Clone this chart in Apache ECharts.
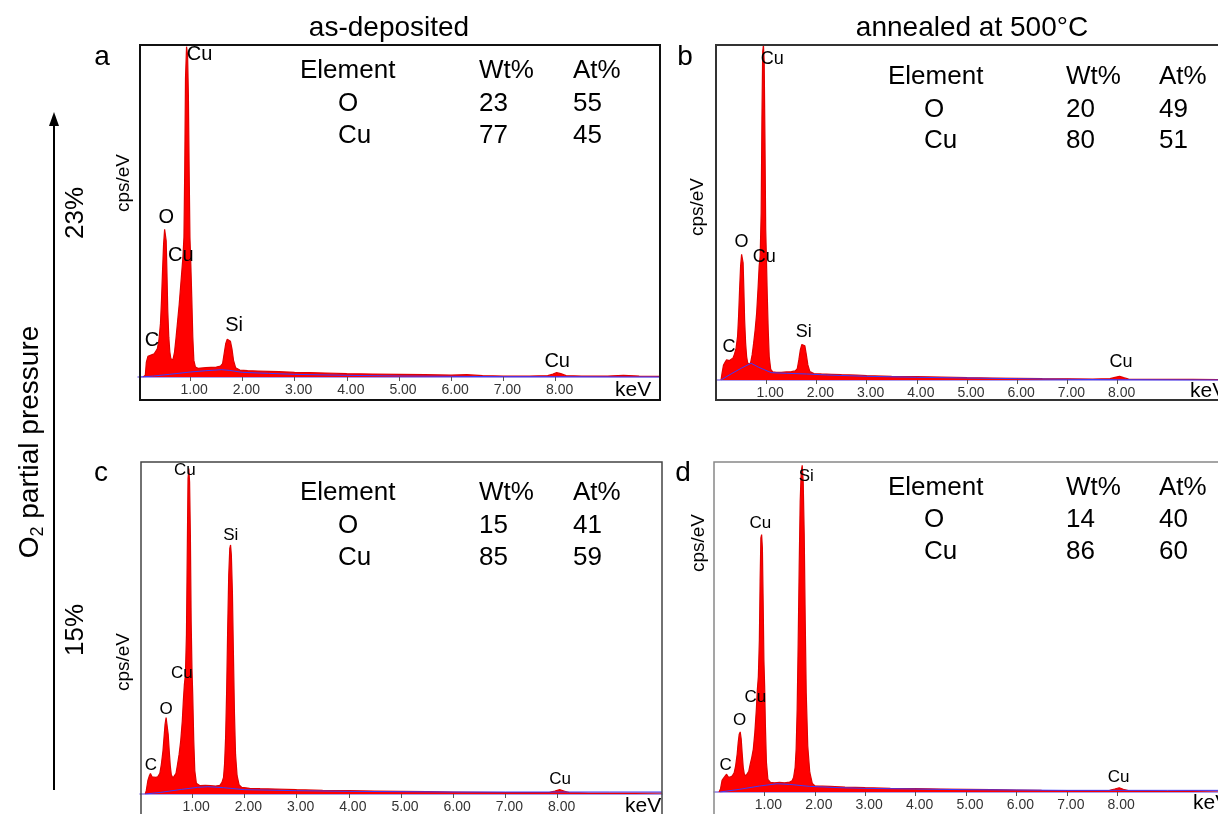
<!DOCTYPE html>
<html><head><meta charset="utf-8">
<script src="https://cdn.jsdelivr.net/npm/echarts@6/dist/echarts.min.js"></script>
<style>html,body{margin:0;padding:0;background:#fff}#c{width:1218px;height:814px}</style>
</head><body><div id="c"></div>
<script>
// ---------------- data ----------------
const tickValues = [1,2,3,4,5,6,7,8];
const tickLabels = ['1.00','2.00','3.00','4.00','5.00','6.00','7.00','8.00'];

const columnTitles = ['as-deposited','annealed at 500\u00B0C'];
const rowTitles = ['23%','15%'];
const panelLetters = ['a','b','c','d'];
const tableHead = ['Element','Wt%','At%'];
const tableElements = ['O','Cu'];
const wtA = [23,77], atA = [55,45];
const wtB = [20,80], atB = [49,51];
const wtC = [15,85], atC = [41,59];
const wtD = [14,86], atD = [40,60];

// spectra [keV, cps/eV (relative)]
const specA = [[0.10,0],[0.14,0.5],[0.16,4.5],[0.19,6.2],[0.22,6.5],[0.25,6.6],[0.28,6.9],[0.31,7.0],[0.34,7.3],[0.37,8.5],[0.40,11],[0.43,16],[0.45,23],[0.47,32],[0.49,40],[0.51,44.5],[0.525,45],[0.54,41],[0.555,31],[0.57,20],[0.59,12],[0.61,7.5],[0.63,5.5],[0.65,4.9],[0.67,5.2],[0.70,7.5],[0.73,12],[0.76,17],[0.79,22],[0.82,28],[0.84,32],[0.86,36],[0.88,42],[0.895,62],[0.91,90],[0.93,99.5],[0.95,97],[0.965,85],[0.98,62],[0.995,42],[1.01,35],[1.03,24],[1.05,12],[1.07,5],[1.10,3],[1.15,2.6],[1.2,2.7],[1.3,2.8],[1.4,2.9],[1.5,3.0],[1.58,3.3],[1.62,4],[1.65,7],[1.68,10],[1.71,11.4],[1.74,11.6],[1.77,10.8],[1.80,8.5],[1.83,5],[1.87,2.8],[1.95,2.1],[2.1,1.9],[2.3,1.8],[2.5,1.7],[2.7,1.6],[3.0,1.4],[3.3,1.3],[3.6,1.2],[4.0,1.0],[4.5,0.9],[5.0,0.8],[5.5,0.7],[6.0,0.6],[6.3,0.7],[6.6,0.4],[7.0,0.3],[7.5,0.3],[7.85,0.4],[7.95,0.9],[8.02,1.3],[8.1,1.0],[8.2,0.4],[8.5,0.3],[9.0,0.3],[9.3,0.5],[9.6,0.3],[10.0,0.2]];
const bgA = [[0.05,0],[0.3,0.3],[0.6,0.8],[1.0,1.5],[1.3,1.9],[1.6,2.2],[1.75,2.0],[2.0,1.4],[2.5,1.1],[3.0,0.8],[4.0,0.5],[5.0,0.3],[6.0,0.2],[7.0,0.1],[8.0,0.1],[10.0,0]];

const specB = [[0.10,0],[0.12,2],[0.15,4.5],[0.18,5.3],[0.21,6.0],[0.24,6.4],[0.27,5.8],[0.30,6.0],[0.34,6.6],[0.37,7.8],[0.40,9.5],[0.43,13],[0.45,19],[0.47,27],[0.49,34],[0.51,37.5],[0.525,38],[0.54,35],[0.555,27],[0.57,18],[0.59,11],[0.61,7],[0.63,5.2],[0.66,4.6],[0.69,5.2],[0.72,7.5],[0.75,11],[0.78,15],[0.81,20],[0.84,28],[0.86,34],[0.88,37],[0.90,50],[0.915,78],[0.93,98],[0.945,100],[0.96,95],[0.975,72],[0.99,45],[1.005,36],[1.02,26],[1.04,15],[1.06,7],[1.09,3.2],[1.13,2.4],[1.2,2.3],[1.3,2.3],[1.4,2.4],[1.5,2.5],[1.58,2.7],[1.62,3.4],[1.65,6],[1.68,9],[1.71,10.6],[1.74,11],[1.77,10.2],[1.80,7.5],[1.83,4.5],[1.87,2.5],[1.95,1.9],[2.1,1.8],[2.3,1.7],[2.5,1.6],[2.8,1.5],[3.0,1.3],[3.5,1.1],[4.0,1.0],[4.5,0.9],[5.0,0.7],[5.5,0.6],[6.0,0.5],[6.5,0.4],[7.0,0.35],[7.5,0.3],[7.85,0.4],[7.95,0.8],[8.04,1.1],[8.12,0.7],[8.22,0.3],[8.6,0.2],[9.0,0.2],[9.5,0.2],[10.0,0.1]];
const bgB = [[0.10,0],[0.3,1.8],[0.5,3.5],[0.70,5.0],[0.85,3.8],[1.1,2.2],[1.4,2.0],[1.8,1.8],[2.2,1.5],[3.0,1.1],[4.0,0.8],[5.0,0.6],[6.0,0.4],[7.0,0.2],[8.0,0.1],[10.0,0]];

const specC = [[0.10,0],[0.12,1],[0.15,4],[0.18,5.5],[0.20,6.2],[0.23,5.2],[0.26,4.8],[0.30,5.0],[0.34,5.2],[0.38,6.2],[0.41,9],[0.44,13],[0.46,17],[0.48,21],[0.50,23],[0.52,22.5],[0.54,18],[0.56,13],[0.58,8.5],[0.60,5.8],[0.63,4.8],[0.66,5.0],[0.69,6.2],[0.72,9],[0.75,12],[0.78,16],[0.81,22],[0.83,28],[0.85,33],[0.87,36],[0.89,48],[0.905,72],[0.92,95],[0.935,98],[0.95,94],[0.965,78],[0.98,52],[0.995,38],[1.01,30],[1.03,16],[1.05,7],[1.08,3.2],[1.15,2.5],[1.25,2.6],[1.35,2.5],[1.45,2.4],[1.53,2.6],[1.57,3.5],[1.60,5],[1.62,9],[1.64,17],[1.66,31],[1.68,50],[1.70,66],[1.72,74],[1.735,75],[1.75,72],[1.77,61],[1.79,42],[1.81,24],[1.83,12],[1.86,5.5],[1.90,2.7],[1.95,2.0],[2.1,1.7],[2.3,1.6],[2.6,1.5],[3.0,1.3],[3.5,1.1],[4.0,1.0],[4.5,0.9],[5.0,0.8],[5.5,0.7],[6.0,0.6],[6.5,0.5],[7.0,0.4],[7.5,0.4],[7.85,0.5],[7.95,0.9],[8.04,1.3],[8.12,0.9],[8.22,0.4],[8.6,0.3],[9.0,0.3],[9.5,0.3],[10.0,0.3]];
const bgC = [[0.10,0],[0.4,0.5],[0.8,1.4],[1.1,2.0],[1.3,2.2],[1.6,1.9],[2.0,1.3],[3.0,1.0],[4.0,0.8],[5.0,0.7],[6.0,0.6],[7.0,0.6],[8.0,0.6],[9.0,0.6],[10.0,0.6]];

const specD = [[0.10,0],[0.13,1],[0.16,3.5],[0.19,4.2],[0.22,4.8],[0.25,5.4],[0.28,4.6],[0.32,4.5],[0.36,4.8],[0.40,5.8],[0.43,8],[0.46,11.5],[0.48,15],[0.50,17.5],[0.52,18.2],[0.54,16],[0.56,11.5],[0.58,7.5],[0.60,5.5],[0.63,4.8],[0.66,5.0],[0.69,6.3],[0.72,8.5],[0.75,10.5],[0.78,13],[0.81,18],[0.84,25],[0.86,31],[0.88,35],[0.90,46],[0.915,64],[0.93,77],[0.945,78],[0.96,74],[0.975,58],[0.99,40],[1.005,32],[1.02,20],[1.04,9],[1.07,3.8],[1.12,2.9],[1.2,2.8],[1.3,2.9],[1.4,2.8],[1.5,3.0],[1.55,3.4],[1.58,4.5],[1.61,7.5],[1.63,13],[1.65,25],[1.67,45],[1.69,68],[1.71,88],[1.73,97],[1.75,99],[1.77,94],[1.79,78],[1.81,52],[1.83,30],[1.86,14],[1.90,6],[1.95,2.6],[2.0,1.9],[2.3,1.7],[2.6,1.5],[3.0,1.3],[3.5,1.1],[4.0,1.0],[4.5,0.9],[5.0,0.8],[5.5,0.7],[6.0,0.6],[6.5,0.5],[7.0,0.45],[7.5,0.4],[7.85,0.5],[7.95,0.9],[8.04,1.3],[8.12,0.8],[8.22,0.4],[8.6,0.35],[9.0,0.3],[9.5,0.35],[10.0,0.3]];
const bgD = [[0.12,0],[0.5,0.8],[0.9,1.8],[1.25,2.5],[1.5,2.3],[1.9,1.7],[2.5,1.3],[3.0,1.1],[4.0,0.9],[5.0,0.7],[6.0,0.6],[7.0,0.5],[8.0,0.5],[9.0,0.5],[10.0,0.5]];

// peak annotations [text, keV, cps/eV]
const peaksA = [['Cu',1.18,97],['O',0.54,48],['Cu',0.82,36.7],['C',0.27,11.1],['Si',1.84,15.4],['Cu',8.03,4.8]];
const peaksB = [['Cu',1.12,95.8],['O',0.51,41.2],['Cu',0.96,36.7],['C',0.26,9.9],['Si',1.75,14.3],['Cu',8.07,5.4]];
const peaksC = [['Cu',0.86,97.6],['Si',1.74,78],['Cu',0.80,36.3],['O',0.50,25.5],['C',0.21,8.7],['Cu',8.05,4.5]];
const peaksD = [['Si',1.83,95.8],['Cu',0.92,81.5],['Cu',0.82,28.8],['O',0.51,21.8],['C',0.23,8.2],['Cu',8.03,4.5]];

// ---------------- layout ----------------
const FF = '"Liberation Sans", Arial, Helvetica, sans-serif';
const panels = [
  {spec:specA, bg:bgA, peaks:peaksA, wt:wtA, at:atA, grid:{left:138,top:45,width:522,height:332}, lblSize:20,
   tbl:{x0:300,x1:338,x2:479,x3:573,y:[71,104,136]}, kev:[615,390], frame:{x:140,y:45,w:520,h:355,c:'#111',lw:2},
   cps:[124,183], letter:[102,57]},
  {spec:specB, bg:bgB, peaks:peaksB, wt:wtB, at:atB, grid:{left:716,top:45,width:509,height:335}, lblSize:18,
   tbl:{x0:888,x1:924,x2:1066,x3:1159,y:[77,110,141]}, kev:[1190,391], frame:{x:716,y:45,w:600,h:355,c:'#333',lw:2},
   cps:[698,207], letter:[685,57]},
  {spec:specC, bg:bgC, peaks:peaksC, wt:wtC, at:atC, grid:{left:140,top:462,width:522,height:333}, lblSize:17,
   tbl:{x0:300,x1:338,x2:479,x3:573,y:[493,526,558]}, kev:[625,806], frame:{x:141,y:462,w:521,h:400,c:'#444',lw:1.5},
   cps:[124,662], letter:[101,473]},
  {spec:specD, bg:bgD, peaks:peaksD, wt:wtD, at:atD, grid:{left:714,top:462,width:513,height:330}, lblSize:17,
   tbl:{x0:888,x1:924,x2:1066,x3:1159,y:[488,520,552]}, kev:[1193,803], frame:{x:714,y:462,w:600,h:400,c:'#888',lw:1.5},
   cps:[699,543], letter:[683,473]}
];

const grids = [], xAxes = [], yAxes = [], series = [], graphics = [];
function txt(x, y, text, size, opts) {
  opts = opts || {};
  return {type:'text', x:x, y:y, rotation:opts.rot || 0, z:100,
    style:{text:text, font: size + 'px ' + FF, fill: opts.color || '#000',
      textAlign: opts.align || 'left', align: opts.align || 'left',
      textVerticalAlign:'middle', verticalAlign:'middle'}};
}

panels.forEach((p, i) => {
  grids.push(Object.assign({containLabel:false}, p.grid));
  xAxes.push({type:'value', gridIndex:i, min:0, max:10,
    axisLine:{show:true, onZero:false, lineStyle:{color:'#8f7fe8', width:1.5}},
    axisTick:{show:true, customValues:tickValues, length:4, lineStyle:{color:'#555', width:1}},
    axisLabel:{show:true, customValues:tickValues, formatter:v => tickLabels[tickValues.indexOf(v)],
      color:'#333', fontSize:14, fontFamily:FF, margin:6, padding:[0,0,0,8]},
    splitLine:{show:false}});
  yAxes.push({type:'value', gridIndex:i, min:0, max:100, show:false});
  series.push({type:'line', xAxisIndex:i, yAxisIndex:i, data:p.spec, showSymbol:false, symbol:'none',
    lineStyle:{color:'#e00000', width:1.2}, areaStyle:{color:'#ff0000', opacity:1}, z:2, silent:true});
  series.push({type:'line', xAxisIndex:i, yAxisIndex:i, data:p.bg, showSymbol:false, symbol:'none',
    lineStyle:{color:'#3a3aff', width:1}, z:3, silent:true});
  series.push({type:'scatter', xAxisIndex:i, yAxisIndex:i, symbolSize:1, silent:true,
    itemStyle:{color:'rgba(255,255,255,0)'}, z:5,
    data:p.peaks.map(k => [k[1], k[2], k[0]]),
    label:{show:true, position:'inside', formatter:q => q.data[2], color:'#000', opacity:1,
      textBorderWidth:0, textBorderColor:'transparent', fontSize:p.lblSize, fontFamily:FF}});
  // frame
  graphics.push({type:'rect', z:90, shape:{x:p.frame.x, y:p.frame.y, width:p.frame.w, height:p.frame.h},
    style:{fill:'none', stroke:p.frame.c, lineWidth:p.frame.lw}});
  // table
  const t = p.tbl;
  graphics.push(txt(t.x0, t.y[0], tableHead[0], 26));
  graphics.push(txt(t.x2, t.y[0], tableHead[1], 26));
  graphics.push(txt(t.x3, t.y[0], tableHead[2], 26));
  tableElements.forEach((el, r) => {
    graphics.push(txt(t.x1, t.y[r+1], el, 26));
    graphics.push(txt(t.x2, t.y[r+1], String(p.wt[r]), 26));
    graphics.push(txt(t.x3, t.y[r+1], String(p.at[r]), 26));
  });
  graphics.push(txt(p.kev[0], p.kev[1], 'keV', 21));
  graphics.push(txt(p.cps[0], p.cps[1], 'cps/eV', 19, {rot:Math.PI/2, align:'center'}));
  graphics.push(txt(p.letter[0], p.letter[1], panelLetters[i], 28, {align:'center'}));
});

// column titles
graphics.push(txt(389, 28, columnTitles[0], 28, {align:'center'}));
graphics.push(txt(972, 28, columnTitles[1], 28, {align:'center'}));
// row titles
graphics.push(txt(76, 213, rowTitles[0], 26, {rot:Math.PI/2, align:'center'}));
graphics.push(txt(76, 630, rowTitles[1], 26, {rot:Math.PI/2, align:'center'}));
// O2 partial pressure
graphics.push({type:'text', x:30, y:442, rotation:Math.PI/2, z:100,
  style:{text:'{m|O}{s|2}{m| partial pressure}', align:'center', textAlign:'center',
    verticalAlign:'middle', textVerticalAlign:'middle', fill:'#000',
    rich:{m:{fontSize:28, fontFamily:FF, lineHeight:34, fill:'#000', verticalAlign:'middle'},
          s:{fontSize:18, fontFamily:FF, lineHeight:18, fill:'#000', verticalAlign:'bottom'}}}});
// arrow
graphics.push({type:'line', z:100, shape:{x1:54, y1:790, x2:54, y2:124}, style:{stroke:'#000', lineWidth:2}});
graphics.push({type:'polygon', z:100, shape:{points:[[54,112],[49,126],[59,126]]}, style:{fill:'#000'}});

const chart = echarts.init(document.getElementById('c'), null, {renderer:'canvas'});
chart.setOption({animation:false, backgroundColor:'#fff', grid:grids, xAxis:xAxes, yAxis:yAxes, series:series, graphic:graphics});
</script></body></html>
